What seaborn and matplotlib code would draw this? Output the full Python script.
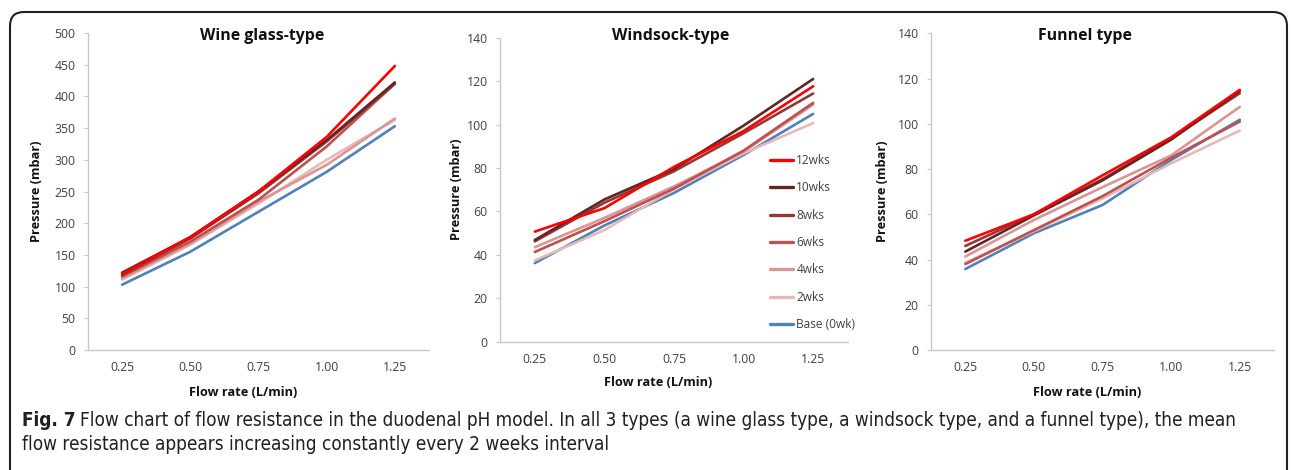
import matplotlib.pyplot as plt
import pandas as pd
import seaborn as sns
from matplotlib.patches import FancyBboxPatch

# x categories (flow rate, L/min) and series names / colours
flow = [0.25, 0.50, 0.75, 1.00, 1.25]
weeks = ["12wks", "10wks", "8wks", "6wks", "4wks", "2wks", "Base (0wk)"]
colors = ["#FF0000", "#632523", "#953735", "#C0504D", "#D99694", "#E6B9B8", "#4F81BD"]

# pressure (mbar), one row per entry of `weeks`
wine = [
    [120, 178, 250, 336, 448],
    [122, 178, 250, 331, 422],
    [118, 176, 247, 329, 420],
    [116, 171, 237, 321, 420],
    [113, 168, 234, 292, 365],
    [111, 166, 231, 300, 363],
    [103, 155, 218, 281, 353],
]
windsock = [
    [50.7, 61.5, 80.5, 97.0, 117.6],
    [46.8, 65.5, 79.5, 99.5, 121.0],
    [46.2, 64.0, 78.5, 96.0, 114.3],
    [41.3, 55.5, 70.5, 88.0, 110.0],
    [43.5, 57.0, 71.5, 87.5, 109.2],
    [37.4, 51.4, 70.2, 86.7, 100.7],
    [36.2, 53.5, 68.5, 86.0, 104.9],
]
funnel = [
    [48.3, 60.0, 77.2, 94.0, 115.0],
    [43.5, 59.5, 75.0, 93.0, 114.5],
    [46.0, 60.0, 75.5, 93.5, 113.5],
    [38.0, 53.0, 68.0, 85.0, 101.0],
    [41.3, 57.5, 72.0, 86.0, 107.5],
    [38.6, 52.5, 67.0, 82.5, 97.0],
    [35.8, 51.6, 64.1, 84.0, 101.8],
]

titles = ["Wine glass-type", "Windsock-type", "Funnel type"]
ymax = [500, 140, 140]
ystep = [50, 20, 20]


def to_long(rows):
    recs = []
    for name, vals in zip(weeks, rows):
        for f, v in zip(flow, vals):
            recs.append({"flow": f, "pressure": v, "series": name})
    return pd.DataFrame(recs)


sns.set_theme(style="white")
plt.rcParams["font.family"] = ["Open Sans", "DejaVu Sans"]

fig = plt.figure(figsize=(12.92, 4.70), dpi=100)

# axes rectangles in figure fractions (left, bottom, width, height)
rects = [
    [0.0681, 0.2553, 0.2639, 0.6745],
    [0.3870, 0.2730, 0.2693, 0.6468],
    [0.7206, 0.2553, 0.2655, 0.6738],
]
title_pos = [(0.51, 0.99), (0.49, 1.005), (0.45, 0.991)]
ylab_x = [36.7, 456.7, 883]
xlab_y = [393, 383, 393]

grey = "#C8C8C8"
txt = "#404040"

for i, data in enumerate([wine, windsock, funnel]):
    ax = fig.add_axes(rects[i])
    df = to_long(data)
    sns.lineplot(data=df, x="flow", y="pressure", hue="series",
                 hue_order=weeks[::-1], palette=colors[::-1],
                 linewidth=1.9, ax=ax, legend=False)
    ax.set_xlim(0.125, 1.375)
    ax.set_ylim(0, ymax[i])
    ax.set_xticks(flow)
    ax.set_xticklabels([f"{f:.2f}" for f in flow])
    ax.set_yticks(range(0, ymax[i] + 1, ystep[i]))
    for s in ["top", "right"]:
        ax.spines[s].set_visible(False)
    for s in ["left", "bottom"]:
        ax.spines[s].set_color(grey)
        ax.spines[s].set_linewidth(1.0)
    ax.tick_params(axis="y", length=3, width=0.8, color=grey, pad=6,
                   labelsize=8.8, labelcolor=txt, left=True)
    ax.tick_params(axis="x", length=0, pad=8, labelsize=8.8, labelcolor=txt)
    ax.set_xlabel("")
    ax.set_ylabel("")
    ax.text(*title_pos[i], titles[i], transform=ax.transAxes, ha="center",
            va="center", fontsize=11.4, fontweight="bold", color="#111111")
    # axis labels placed in figure pixels
    bb = rects[i]
    cy = bb[1] + bb[3] / 2
    fig.text(ylab_x[i] / 1292, cy, "Pressure (mbar)", rotation=90,
             ha="center", va="center", fontsize=9.2, fontweight="bold",
             color="#111111")
    fig.text(bb[0] + bb[2] / 2 - 0.012, 1 - xlab_y[i] / 470, "Flow rate (L/min)",
             ha="center", va="center", fontsize=9.2, fontweight="bold",
             color="#111111")
    if i == 1:
        handles = [plt.Line2D([], [], color=c, lw=2.4) for c in colors]
        ax.legend(handles, weeks, loc="upper left",
                  bbox_to_anchor=(0.776, 0.617), frameon=False,
                  fontsize=8.6, labelspacing=1.2, handlelength=1.95,
                  handletextpad=0.25, borderpad=0, borderaxespad=0,
                  labelcolor=txt)

# rounded frame around the figure panel
frame = FancyBboxPatch((10, -30), 1277, 458 + 30, transform=None,
                       boxstyle="round,pad=0,rounding_size=14",
                       fill=False, edgecolor="#231F20", linewidth=1.5)
fig.patches.append(frame)

# caption, sized so the first line spans the same width as the original
cap_kw = dict(color="#231F20", va="center", family=["DejaVu Sans"],
              fontstretch="condensed")
line1 = ("Flow chart of flow resistance in the duodenal pH model. In all 3 types "
         "(a wine glass type, a windsock type, and a funnel type), the mean")
line2 = "flow resistance appears increasing constantly every 2 weeks interval"


def caption_first_line(size):
    a = fig.text(22 / 1292, 1 - 420 / 470, "Fig. 7", fontsize=size,
                 fontweight="bold", **cap_kw)
    fig.canvas.draw()
    x1 = a.get_window_extent().x1
    b = fig.text((x1 + 4) / 1292, 1 - 420 / 470, line1, fontsize=size, **cap_kw)
    fig.canvas.draw()
    return a, b, b.get_window_extent().x1


size = 12.0
for _ in range(3):
    t1, t2, right = caption_first_line(size)
    t1.remove()
    t2.remove()
    size *= (1240 - 22) / (right - 22)
caption_first_line(size)
fig.text(22 / 1292, 1 - 445 / 470, line2, fontsize=size, **cap_kw)

fig.savefig("out.png", dpi=100)
